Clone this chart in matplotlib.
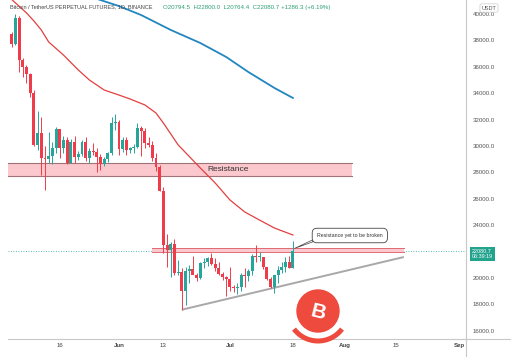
import matplotlib
matplotlib.use("Agg")
import matplotlib.pyplot as plt
import matplotlib.dates as mdates
import matplotlib.patches as patches
import numpy as np

plt.rcParams["font.family"] = ["Liberation Sans", "DejaVu Sans"]

# BTCUSDT perpetual, daily candles from 3 May to 18 Jul 2022
start_day = "2022-05-03"
opens = [38520, 37720, 39690, 36550, 36010, 35470, 34040, 30080, 31010, 29100,
         29050, 29280, 29860, 31300, 29870, 30420, 28700, 30290, 29180, 29430,
         30280, 29100, 29640, 29510, 29190, 28620, 29020, 29450, 31720,
         31790, 29800, 30450, 29700, 29860, 29900, 31370, 31120, 30190, 30100,
         29080, 28420, 26570, 22480, 22130, 22580, 20380, 20450, 19000, 20550,
         20700, 20250, 19990, 21100, 21230, 21490, 21040, 20730, 20280, 20100,
         19930, 19300, 19240, 19300, 20230, 20190, 20550, 21630, 21590, 21590,
         20850, 19960, 19330, 20210, 20580, 20830, 21200, 20794.5]
highs = [38650, 39980, 39850, 36660, 36130, 35500, 34250, 32660, 32190, 30030,
         31080, 30330, 31420, 31320, 30790, 30660, 30540, 30740, 29620, 30420,
         30650, 29820, 30220, 29850, 29390, 29200, 29580, 32200, 32400,
         31980, 30650, 30680, 29940, 30180, 31760, 31550, 31330, 30700, 30380,
         29440, 28540, 26890, 23360, 22750, 22960, 21360, 20760, 20800, 21000,
         21700, 20410, 21200, 21500, 21580, 21860, 21520, 21190, 20420, 20160,
         20870, 19440, 19650, 20350, 20750, 20650, 21830, 22500, 21950, 21600,
         20870, 20050, 20250, 20880, 21200, 21580, 21680, 22800.0]
lows = [37510, 37670, 35570, 35260, 34790, 33710, 30030, 29730, 27790, 26700,
        28710, 28630, 29490, 29090, 29460, 28640, 28690, 28730, 28950, 29230,
        28850, 28680, 29300, 28010, 28200, 28450, 28810, 29300, 31200,
        29300, 29580, 29350, 29480, 29500, 29880, 29220, 29850, 29940, 28850,
        28100, 26560, 21920, 20850, 20110, 20250, 20240, 17600, 17950, 19640,
        20350, 19770, 19890, 20780, 20920, 20980, 20500, 20200, 19850, 18630,
        19000, 18970, 18780, 19030, 19300, 19760, 20250, 21200, 21320, 20650,
        19880, 19240, 18900, 19620, 20370, 20480, 20760, 20764.4]
closes = [37720, 39690, 36550, 36010, 35470, 34040, 30080, 31010, 29100, 29050,
          29280, 29860, 31300, 29870, 30420, 28700, 30290, 29180, 29430, 30280,
          29100, 29640, 29510, 29190, 28620, 29020, 29450, 31720, 31790,
          29800, 30450, 29700, 29860, 29900, 31370, 31120, 30190, 30100, 29080,
          28420, 26570, 22480, 22130, 22580, 20380, 20450, 19000, 20550, 20700,
          20250, 19990, 21100, 21230, 21490, 21040, 20730, 20280, 20100, 19930,
          19300, 19240, 19300, 20230, 20190, 20550, 21630, 21590, 21590, 20850,
          19960, 19330, 20210, 20580, 20830, 21200, 20790, 22080.7]

# moving averages
ma_fast_days = ["2022-05-03", "2022-05-07", "2022-05-09", "2022-05-11", "2022-05-13",
                "2022-05-17", "2022-05-21", "2022-05-24", "2022-05-28", "2022-06-01",
                "2022-06-04", "2022-06-08", "2022-06-11", "2022-06-13", "2022-06-17",
                "2022-06-23", "2022-06-27", "2022-07-01", "2022-07-05", "2022-07-09",
                "2022-07-13", "2022-07-18"]
ma_fast = [41100, 40080, 39470, 38790, 37880, 36890, 35760, 35000, 34240, 33860,
           33560, 33110, 32500, 31740, 30080, 28330, 27200, 25910, 25000, 24390,
           23790, 23260]
ma_slow_days = ["2022-05-26", "2022-06-01", "2022-06-07", "2022-06-15", "2022-06-23",
                "2022-06-30", "2022-07-06", "2022-07-13", "2022-07-18"]
ma_slow = [41150, 40600, 39920, 38790, 37800, 36740, 35600, 34400, 33640]

# drawings
resist_top = [27750, 28700]
resist_top_end = "2022-08-03"
resist_low = [21950, 22250]
resist_low_days = ["2022-06-10", "2022-08-17"]
support_days = ["2022-06-18", "2022-08-17"]
support_vals = [17600, 21590]
last_price = 22080.7
last_time = "06:39:19"

ytick_vals = list(range(16000, 40001, 2000))
xtick_days = ["2022-05-16", "2022-06-01", "2022-06-13", "2022-07-01",
              "2022-07-18", "2022-08-01", "2022-08-15", "2022-09-01"]
xtick_text = ["16", "Jun", "13", "Jul", "18", "Aug", "15", "Sep"]

UP = "#26a69a"
DOWN = "#ef3b4a"


def dnum(s):
    return mdates.date2num(np.datetime64(s))


fig = plt.figure(figsize=(5.11, 3.57), dpi=100)
ax = fig.add_axes([8 / 511, 18 / 357, 458 / 511, 339 / 357])

# candles
days = np.arange(np.datetime64(start_day), np.datetime64(start_day) + len(opens))
x = mdates.date2num(days)
o, h, l, c = map(np.array, (opens, highs, lows, closes))
colors = np.where(c >= o, UP, DOWN)
ax.vlines(x, l, h, colors=colors, linewidth=0.7, zorder=3)
body = np.maximum(np.abs(c - o), 60)
ax.bar(x, body, bottom=np.minimum(o, c), width=0.8, color=colors,
       linewidth=0, zorder=4)

# moving averages
ax.plot(mdates.date2num(np.array(ma_fast_days, dtype="datetime64[D]")), ma_fast,
        color="#e2403f", lw=0.9, zorder=5)
ax.plot(mdates.date2num(np.array(ma_slow_days, dtype="datetime64[D]")), ma_slow,
        color="#2186c0", lw=1.3, zorder=5)

xmin = dnum("2022-05-02")
xmax = dnum("2022-09-02") + 0.8

# resistance zone
ax.fill_between([xmin, dnum(resist_top_end)], resist_top[0], resist_top[1],
                color="#fbc8ce", lw=0, zorder=1)
for v in resist_top:
    ax.plot([xmin, dnum(resist_top_end)], [v, v], color="#9e7477", lw=0.8, zorder=2)
ax.text(dnum("2022-06-30") + 0.5, sum(resist_top) / 2, "Resistance",
        fontsize=6, color="#333333", ha="center", va="center", zorder=6)

# price line
ax.axhline(last_price, color=UP, lw=0.6, ls=(0, (1, 2)), zorder=1)

# lower resistance
lx = [dnum(d) for d in resist_low_days]
ax.fill_between(lx, resist_low[0], resist_low[1], color="#f9c9cf", lw=0, zorder=2)
for v in resist_low:
    ax.plot(lx, [v, v], color="#e06b74", lw=0.7, zorder=2)

# rising support
ax.plot([dnum(d) for d in support_days], support_vals, color="#a8a8a8",
        lw=1.4, zorder=2, solid_capstyle="butt")

# callout
ax.annotate("Resistance yet to be broken",
            xy=(dnum("2022-07-18") + 0.5, 22250),
            xytext=(dnum("2022-08-02") + 0.4, 23220),
            fontsize=3.8, color="#333333", ha="center", va="center", zorder=7,
            bbox=dict(boxstyle="round,pad=0.9,rounding_size=0.9", fc="white",
                      ec="#444444", lw=0.6),
            arrowprops=dict(arrowstyle="wedge,tail_width=0.35,shrink_factor=0.5",
                            fc="white", ec="#444444", lw=0.5,
                            relpos=(0.06, 0.1), shrinkA=0, shrinkB=0))

ax.set_xlim(xmin, xmax)
ax.set_ylim(15380, 41060)

ax.yaxis.tick_right()
ax.set_yticks(ytick_vals)
# the last-price tag covers the nearest tick label
ax.set_yticklabels(["" if abs(v - last_price) < 1000 else f"{v:.1f}"
                    for v in ytick_vals])
ax.tick_params(axis="y", length=0, pad=5, labelsize=4.4, labelcolor="#555555")
ax.set_xticks([dnum(d) for d in xtick_days])
ax.set_xticklabels(xtick_text)
ax.tick_params(axis="x", length=0, pad=3, labelsize=4.4, labelcolor="#444444")
for lab in ax.get_xticklabels():
    if not lab.get_text().isdigit():
        lab.set_fontweight("bold")

for s in ("top", "left"):
    ax.spines[s].set_visible(False)
for s in ("right", "bottom"):
    ax.spines[s].set_color("#c8c8c8")
    ax.spines[s].set_linewidth(0.8)

# last price tag
ax.annotate(f"{last_price:.1f}\n{last_time}", xy=(1, last_price),
            xycoords=ax.get_yaxis_transform(), xytext=(4, -2.5),
            textcoords="offset points", ha="left", va="center", fontsize=3.9,
            color="white", linespacing=1.1, annotation_clip=False,
            bbox=dict(boxstyle="square,pad=0.35", fc="#22a38e", ec="none"))

# header + currency
fig.text(10 / 511, 1 - 7 / 357, "Bitcoin / TetherUS PERPETUAL FUTURES, 1D, BINANCE",
         fontsize=4.0, color="#444444", va="center")
fig.text(163 / 511, 1 - 7 / 357,
         "O20794.5  H22800.0  L20764.4  C22080.7 +1286.3 (+6.19%)",
         fontsize=4.4, color="#2e9e72", va="center")
fig.text(489 / 511, 1 - 8 / 357, "USDT", fontsize=4, color="#555555",
         ha="center", va="center",
         bbox=dict(boxstyle="round,pad=0.3,rounding_size=0.3", fc="white",
                   ec="#cccccc", lw=0.5))

# overlay in pixel units: axis line extensions + watermark logo
ov = fig.add_axes([0, 0, 1, 1], zorder=10)
ov.set_xlim(0, 511)
ov.set_ylim(357, 0)
ov.axis("off")
ov.patch.set_alpha(0)
ov.plot([466, 466], [339, 357], color="#c8c8c8", lw=0.8)
ov.plot([466, 511], [339, 339], color="#c8c8c8", lw=0.8)
ov.add_patch(patches.Circle((318, 311), 21, color="#ee4a3d"))
ov.add_patch(patches.Arc((318, 311), 60, 60, theta1=37, theta2=143,
                         color="#ee4a3d", lw=3.6))
ov.text(318, 312, "B", fontsize=15, fontweight="bold", color="white",
        ha="center", va="center", rotation=-14)

fig.savefig("out.png", dpi=100)
